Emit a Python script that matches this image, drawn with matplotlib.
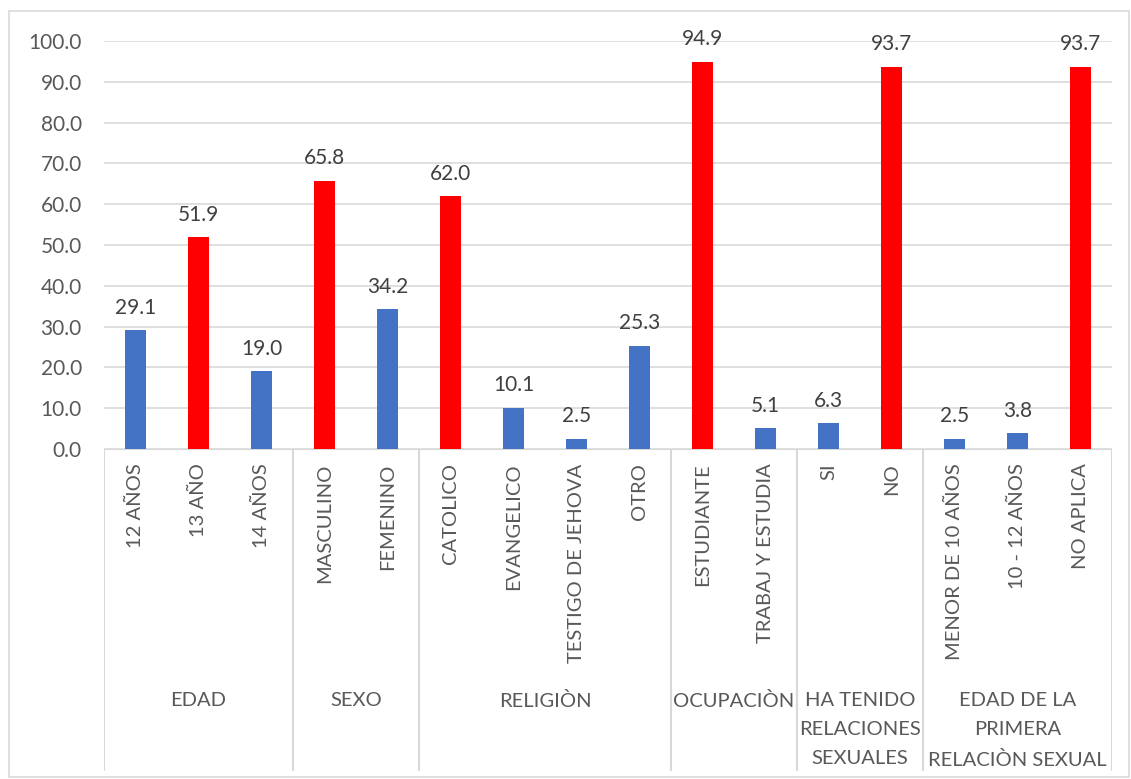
import matplotlib.pyplot as plt
from matplotlib.patches import Rectangle

plt.rcParams['font.family'] = ['Lato', 'DejaVu Sans']

groups = ['EDAD', 'SEXO', 'RELIGIÒN', 'OCUPACIÒN',
          'HA TENIDO\nRELACIONES\nSEXUALES',
          'EDAD DE LA\nPRIMERA\nRELACIÒN SEXUAL']
categories = [
    ['12 AÑOS', '13 AÑO', '14 AÑOS'],
    ['MASCULINO', 'FEMENINO'],
    ['CATOLICO', 'EVANGELICO', 'TESTIGO DE JEHOVA', 'OTRO'],
    ['ESTUDIANTE', 'TRABAJ Y ESTUDIA'],
    ['SI', 'NO'],
    ['MENOR DE 10 AÑOS', '10 - 12 AÑOS', 'NO APLICA'],
]
values = [
    [29.1, 51.9, 19.0],
    [65.8, 34.2],
    [62.0, 10.1, 2.5, 25.3],
    [94.9, 5.1],
    [6.3, 93.7],
    [2.5, 3.8, 93.7],
]

BLUE = '#4472C4'
RED = '#FF0000'
GRID = '#D9D9D9'
TXT = '#595959'

W, H = 1131, 779
fig = plt.figure(figsize=(W / 100, H / 100), dpi=100)

def px_axes(x0, y0, x1, y1):
    return fig.add_axes([x0 / W, 1 - y1 / H, (x1 - x0) / W, (y1 - y0) / H])

# outer chart frame
fig.add_artist(Rectangle((9 / W, 1 - 777 / H), 1120 / W, 766 / H,
                         transform=fig.transFigure, fill=False,
                         edgecolor=GRID, lw=1.2))

left, right, top, base = 104, 1112, 41, 449
ax = px_axes(left, top, right, base)
cat = px_axes(left, base, right, 771)

n = sum(len(c) for c in categories)
ax.set_xlim(0, n)
ax.set_ylim(0, 100)
ax.set_yticks(range(0, 101, 10))
ax.set_yticklabels([f'{v:.1f}' for v in range(0, 101, 10)], fontsize=15, color=TXT)
ax.tick_params(axis='y', length=0, pad=16)
ax.set_xticks([])
for s in ax.spines.values():
    s.set_visible(False)
ax.grid(axis='y', color=GRID, lw=1.2)
ax.set_axisbelow(True)

cat.set_xlim(0, n)
cat.set_ylim(1, 0)
cat.axis('off')

pos = 0
bounds = [0]
for g, labels, vals in zip(groups, categories, values):
    top_v = max(vals)
    xs = [pos + i + 0.5 for i in range(len(vals))]
    cols = [RED if v == top_v else BLUE for v in vals]
    ax.bar(xs, vals, width=0.32, color=cols, zorder=3)
    for x, v, lab in zip(xs, vals, labels):
        ax.annotate(f'{v:.1f}', (x, v), xytext=(0, 9), textcoords='offset points',
                    ha='center', va='bottom', fontsize=15, color='#404040')
        cat.text(x, 0.045, lab, rotation=90, ha='center', va='top',
                 fontsize=14.5, color=TXT)
    cat.text(pos + len(vals) / 2, 0.755, g, ha='center', va='top',
             fontsize=14.5, color=TXT, linespacing=1.85)
    pos += len(vals)
    bounds.append(pos)

cat.vlines(bounds, 0, 1, colors=GRID, lw=1.5)
cat.hlines(0, 0, n, colors=GRID, lw=1.5)

fig.savefig('out.png', dpi=100)
